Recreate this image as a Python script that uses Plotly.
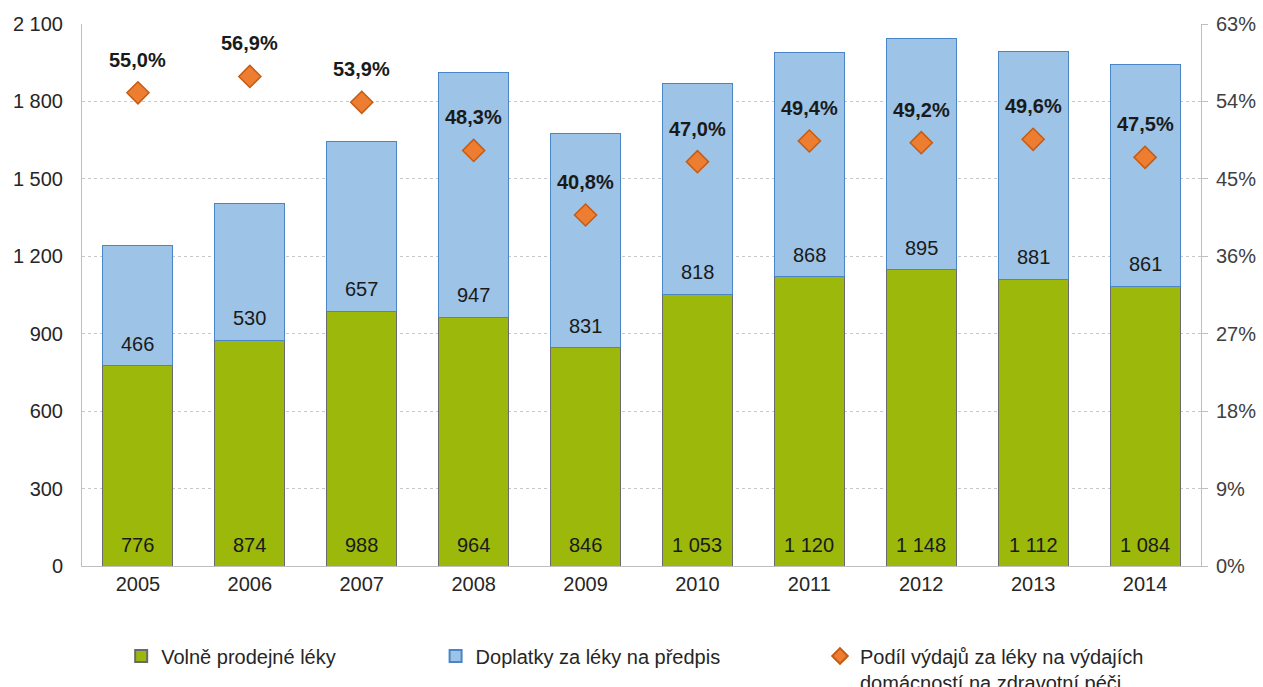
import plotly.graph_objects as go

years = ["2005", "2006", "2007", "2008", "2009", "2010", "2011", "2012", "2013", "2014"]
volne = [776, 874, 988, 964, 846, 1053, 1120, 1148, 1112, 1084]
doplatky = [466, 530, 657, 947, 831, 818, 868, 895, 881, 861]
podil = [55.0, 56.9, 53.9, 48.3, 40.8, 47.0, 49.4, 49.2, 49.6, 47.5]

left_ticks = [0, 300, 600, 900, 1200, 1500, 1800, 2100]
right_ticks = [0, 9, 18, 27, 36, 45, 54, 63]

FONT = "Arial, Liberation Sans, sans-serif"
GREEN = "#9BB80B"
BLUE = "#9DC3E6"
ORANGE = "#ED7D31"


def fmt_int(v):
    return f"{v:,}".replace(",", " ")


def fmt_pct(v):
    return f"{v:.1f}".replace(".", ",") + "%"


fig = go.Figure()

fig.add_trace(go.Bar(
    x=years, y=volne, name="Volně prodejné léky",
    marker=dict(color=GREEN, line=dict(color="#6a6a6a", width=1)),
    width=0.625, legend="legend",
))
fig.add_trace(go.Bar(
    x=years, y=doplatky, name="Doplatky za léky na předpis",
    marker=dict(color=BLUE, line=dict(color="#4A86C5", width=1)),
    width=0.625, legend="legend2",
))
fig.add_trace(go.Scatter(
    x=years, y=podil, yaxis="y2", mode="markers",
    name="Podíl výdajů za léky na výdajích<br>domácností na zdravotní péči",
    marker=dict(symbol="diamond", size=17, color=ORANGE,
                line=dict(color="#C65B12", width=1.5)),
    legend="legend3",
))

annotations = []
for i, (g, b, p) in enumerate(zip(volne, doplatky, podil)):
    # value labels near the base of each segment
    annotations.append(dict(x=i, y=0, xref="x", yref="y", text=fmt_int(g),
                            showarrow=False, yanchor="bottom", yshift=8,
                            font=dict(family=FONT, size=20, color="#1a1a1a")))
    annotations.append(dict(x=i, y=g, xref="x", yref="y", text=fmt_int(b),
                            showarrow=False, yanchor="bottom", yshift=9,
                            font=dict(family=FONT, size=20, color="#1a1a1a")))
    # share labels above the diamonds
    annotations.append(dict(x=i, y=p, xref="x", yref="y2", text="<b>" + fmt_pct(p) + "</b>",
                            showarrow=False, yanchor="middle", yshift=33,
                            font=dict(family=FONT, size=20, color="#1a1a1a")))

legend_common = dict(orientation="h", yanchor="top", xanchor="left", y=-0.13,
                     font=dict(family=FONT, size=20, color="#262626"),
                     bgcolor="rgba(0,0,0,0)", itemwidth=30, itemsizing="constant",
                     valign="top")

fig.update_layout(
    width=1263, height=687,
    margin=dict(l=82, r=62, t=24, b=121, autoexpand=False),
    paper_bgcolor="white", plot_bgcolor="white",
    barmode="stack", bargap=0.375,
    separators=", ",
    font=dict(family=FONT, size=20, color="#404040"),
    showlegend=True,
    legend=dict(**legend_common, x=0.035),
    legend2=dict(**legend_common, x=0.316),
    legend3=dict(**legend_common, x=0.6595),
    xaxis=dict(
        type="category", range=[-0.5, 9.5],
        showline=True, linecolor="#bfbfbf", linewidth=1,
        ticks="", tickfont=dict(family=FONT, size=20, color="#262626"),
        showgrid=False, fixedrange=True,
    ),
    yaxis=dict(
        range=[0, 2100], tickvals=left_ticks,
        ticktext=[fmt_int(t) for t in left_ticks],
        showline=True, linecolor="#bfbfbf", linewidth=1,
        showgrid=True, gridcolor="#c8c8c8", griddash="3px,3px", gridwidth=1,
        zeroline=False, ticks="", ticklabelstandoff=14,
        tickfont=dict(family=FONT, size=20, color="#262626"),
    ),
    yaxis2=dict(
        range=[0, 63], tickvals=right_ticks,
        ticktext=[f"{t}%" for t in right_ticks],
        overlaying="y", side="right",
        showline=True, linecolor="#bfbfbf", linewidth=1,
        showgrid=False, zeroline=False,
        ticks="outside", ticklen=6, tickcolor="#bfbfbf", ticklabelstandoff=4,
        tickfont=dict(family=FONT, size=20, color="#404040"),
    ),
    annotations=annotations,
)

fig.write_html("out.html")
